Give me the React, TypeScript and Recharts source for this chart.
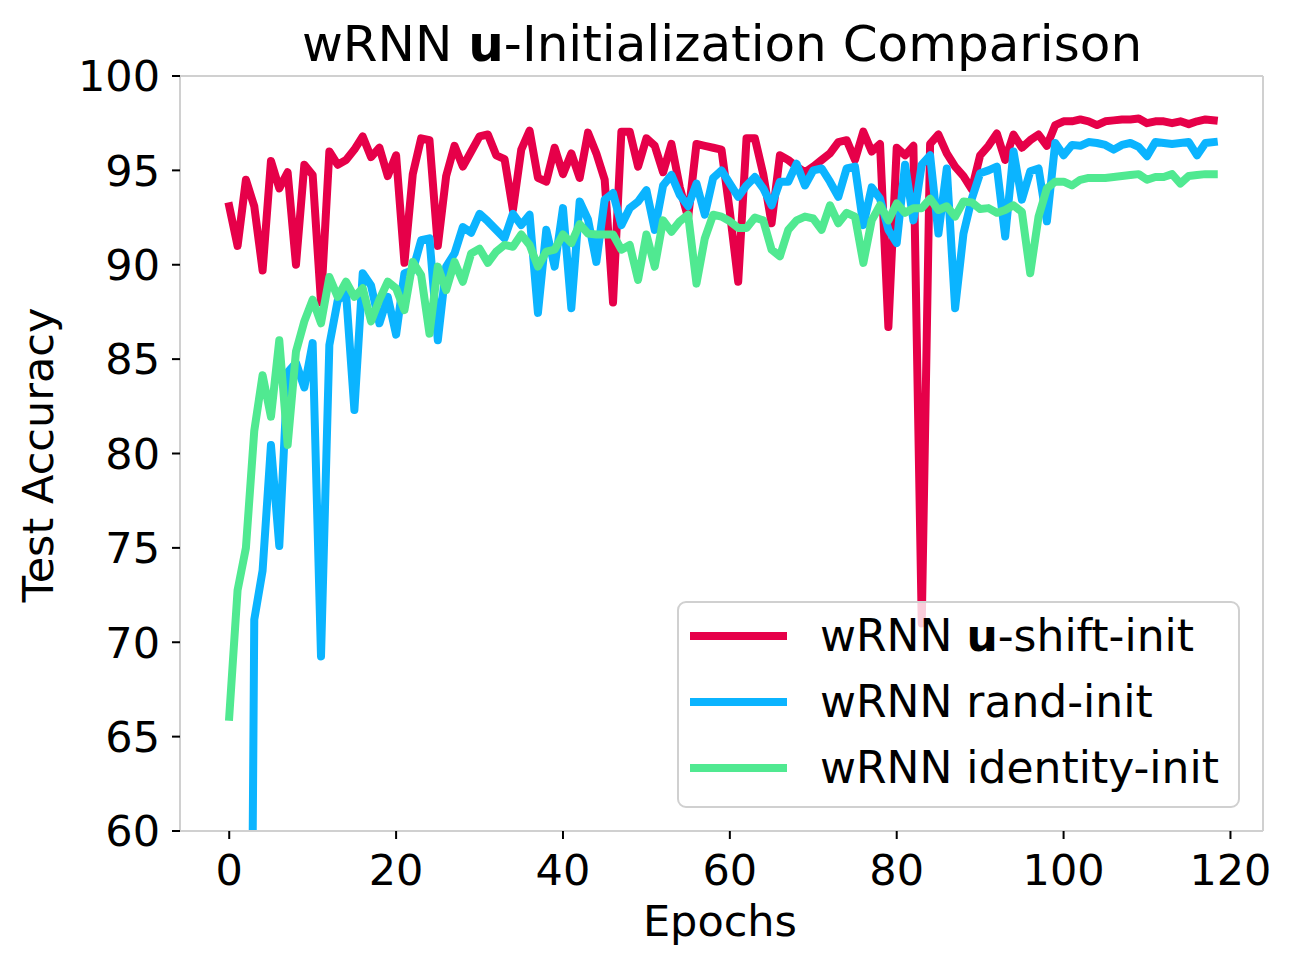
import React from "react";
import {
  LineChart,
  Line,
  XAxis,
  YAxis,
  Legend,
  ReferenceLine,
} from "recharts";

// test accuracy per epoch (0..118)
const shiftInit = [
  93.1, 91.0, 94.5, 93.1, 89.7, 95.5, 94.05, 94.9, 90.0, 95.3,
  94.75, 88.0, 96.0, 95.3, 95.55, 96.1, 96.8, 95.7, 96.2, 94.7,
  95.8, 90.1, 94.8, 96.7, 96.6, 91.0, 94.7, 96.3, 95.2, 96.0,
  96.8, 96.9, 95.8, 95.6, 92.9, 96.1, 97.1, 94.6, 94.4, 96.2,
  94.8, 95.9, 94.6, 97.0, 95.9, 94.5, 88.0, 97.05, 97.05, 95.2,
  96.7, 96.3, 94.9, 96.4, 94.1, 92.5, 96.4, 96.3, 96.2, 96.1,
  92.8, 89.1, 96.7, 96.7, 94.8, 92.2, 95.8, 95.55, 95.2, 94.9,
  95.2, 95.55, 95.9, 96.5, 96.6, 95.55, 97.05, 96.0, 96.4, 86.7,
  96.2, 95.8, 96.3, 71.0, 96.4, 96.9, 95.9, 95.2, 94.7, 94.0,
  95.8, 96.3, 96.95, 95.55, 96.9, 96.2, 96.6, 96.9, 96.3, 97.4,
  97.6, 97.6, 97.7, 97.6, 97.4, 97.6, 97.65, 97.7, 97.7, 97.75,
  97.5, 97.6, 97.6, 97.5, 97.6, 97.45, 97.6, 97.7, 97.65,
];

const randInit = [
  10, 10, 10, 71.2, 73.8, 80.45, 75.1, 84.3, 84.8, 83.5,
  85.85, 69.25, 85.75, 88.1, 88.5, 82.3, 89.55, 88.9, 86.9, 88.3,
  86.3, 89.55, 89.7, 91.3, 91.4, 86.0, 89.9, 90.6, 92.0, 91.7,
  92.7, 92.3, 91.85, 91.4, 92.7, 92.1, 92.65, 87.45, 91.85, 89.9,
  93.0, 87.7, 93.35, 92.4, 90.15, 93.45, 93.8, 92.1, 93.0, 93.35,
  93.95, 91.85, 94.2, 94.75, 93.7, 93.1, 94.3, 92.65, 94.6, 95.0,
  94.3, 93.6, 94.2, 94.65, 94.05, 93.15, 94.4, 94.4, 95.35, 94.2,
  95.0, 95.1, 94.4, 93.6, 95.1, 95.2, 92.1, 94.1, 93.5, 91.85,
  91.15, 95.3, 92.35, 95.3, 95.8, 91.65, 95.1, 87.7, 91.65, 93.5,
  94.85, 95.0, 95.2, 91.5, 96.0, 93.45, 94.95, 95.1, 92.3, 96.45,
  95.8, 96.35, 96.3, 96.5, 96.45, 96.35, 96.1, 96.35, 96.45, 96.25,
  95.75, 96.5, 96.45, 96.4, 96.45, 96.5, 95.8, 96.45, 96.5,
];

const identityInit = [
  66.05, 72.75, 75.0, 81.2, 84.15, 81.95, 86.0, 80.45, 85.4, 87.0,
  88.15, 86.9, 89.35, 88.3, 89.1, 88.3, 88.75, 87.0, 88.15, 89.1,
  88.75, 87.6, 90.15, 89.45, 86.35, 89.9, 88.65, 90.15, 89.1, 90.6,
  90.85, 90.1, 90.7, 91.05, 90.95, 91.6, 91.05, 89.9, 90.7, 90.8,
  91.6, 91.15, 92.15, 91.65, 91.6, 91.6, 91.6, 90.8, 91.05, 89.2,
  91.6, 89.9, 92.35, 91.75, 92.3, 92.65, 89.0, 91.4, 92.65, 92.55,
  92.3, 91.95, 91.95, 92.5, 92.35, 90.8, 90.45, 91.85, 92.35, 92.55,
  92.45, 91.85, 93.15, 92.2, 92.75, 92.55, 90.1, 92.35, 93.15, 92.35,
  93.25, 92.75, 93.0, 93.0, 93.5, 92.9, 93.1, 92.55, 93.35, 93.3,
  92.95, 93.0, 92.75, 92.9, 93.15, 92.8, 89.55, 92.55, 94.05, 94.4,
  94.4, 94.2, 94.5, 94.6, 94.6, 94.6, 94.65, 94.7, 94.75, 94.8,
  94.5, 94.65, 94.65, 94.8, 94.3, 94.7, 94.75, 94.8, 94.8,
];

const xTicks = [0, 20, 40, 60, 80, 100, 120];
const yTicks = [60, 65, 70, 75, 80, 85, 90, 95, 100];

const FONT = "DejaVu Sans";
const RED = "#e60049";
const BLUE = "#0bb4ff";
const GREEN = "#50e991";
const SPINE = "#d0d0d0";

const data = shiftInit.map((v, i) => ({
  epoch: i,
  shift: v,
  rand: randInit[i],
  identity: identityInit[i],
}));

const legendRows = [
  { color: RED, label: "shift" },
  { color: BLUE, label: "rand" },
  { color: GREEN, label: "identity" },
];

const LegendBox = () => (
  <svg width={563} height={207} style={{ display: "block" }}>
    <rect
      x={1}
      y={1}
      width={561}
      height={205}
      rx={8}
      fill="#fff"
      fillOpacity={0.8}
      stroke={SPINE}
      strokeWidth={2}
    />
    {legendRows.map((r, i) => {
      const cy = 35 + i * 66;
      return (
        <g key={r.label}>
          <line x1={13} x2={110} y1={cy} y2={cy} stroke={r.color} strokeWidth={8} />
          <text x={143} y={cy + 15} fontFamily={FONT} fontSize={44} fill="#000">
            {i === 0 ? (
              <>
                wRNN <tspan fontWeight="bold">u</tspan>-shift-init
              </>
            ) : i === 1 ? (
              "wRNN rand-init"
            ) : (
              "wRNN identity-init"
            )}
          </text>
        </g>
      );
    })}
  </svg>
);

export default function App() {
  const tickStyle = { fontSize: 43, fill: "#000", fontFamily: FONT };
  const lineProps = {
    type: "linear" as const,
    strokeWidth: 8,
    strokeLinejoin: "round" as const,
    strokeLinecap: "square" as const,
    dot: false,
    isAnimationActive: false,
  };
  return (
    <div style={{ position: "relative", width: 1280, height: 955 }}>
      <LineChart
        width={1280}
        height={955}
        data={data}
        margin={{ top: 68, right: 25, left: 22, bottom: 12 }}
      >
        <XAxis
          dataKey="epoch"
          type="number"
          domain={[-5.9, 123.9]}
          ticks={xTicks}
          allowDataOverflow
          height={120}
          tick={tickStyle}
          tickSize={8}
          tickMargin={15}
          tickLine={{ stroke: "#000", strokeWidth: 2 }}
          axisLine={{ stroke: SPINE, strokeWidth: 2 }}
        />
        <YAxis
          type="number"
          domain={[60, 100]}
          ticks={yTicks}
          allowDataOverflow
          width={150}
          tick={tickStyle}
          tickSize={8}
          tickMargin={12}
          tickLine={{ stroke: "#000", strokeWidth: 2 }}
          axisLine={{ stroke: SPINE, strokeWidth: 2 }}
        />
        <ReferenceLine y={100} stroke={SPINE} strokeWidth={2} />
        <ReferenceLine x={123.9} stroke={SPINE} strokeWidth={2} />
        <Line dataKey="shift" stroke={RED} {...lineProps} />
        <Line dataKey="rand" stroke={BLUE} {...lineProps} />
        <Line dataKey="identity" stroke={GREEN} {...lineProps} />
        <Legend
          layout="vertical"
          align="center"
          verticalAlign="middle"
          content={() => <LegendBox />}
          wrapperStyle={{ left: 669, top: 593, width: 563, height: 207 }}
        />
      </LineChart>
      <svg
        width={1280}
        height={955}
        style={{ position: "absolute", left: 0, top: 0, pointerEvents: "none" }}
      >
        <text x={714} y={53} textAnchor="middle" fontFamily={FONT} fontSize={50} fill="#000">
          wRNN <tspan fontWeight="bold">u</tspan>-Initialization Comparison
        </text>
        <text x={712} y={928} textAnchor="middle" fontFamily={FONT} fontSize={43} fill="#000">
          Epochs
        </text>
        <text
          x={0}
          y={0}
          transform="translate(45, 447) rotate(-90)"
          textAnchor="middle"
          fontFamily={FONT}
          fontSize={43}
          fill="#000"
        >
          Test Accuracy
        </text>
      </svg>
    </div>
  );
}
